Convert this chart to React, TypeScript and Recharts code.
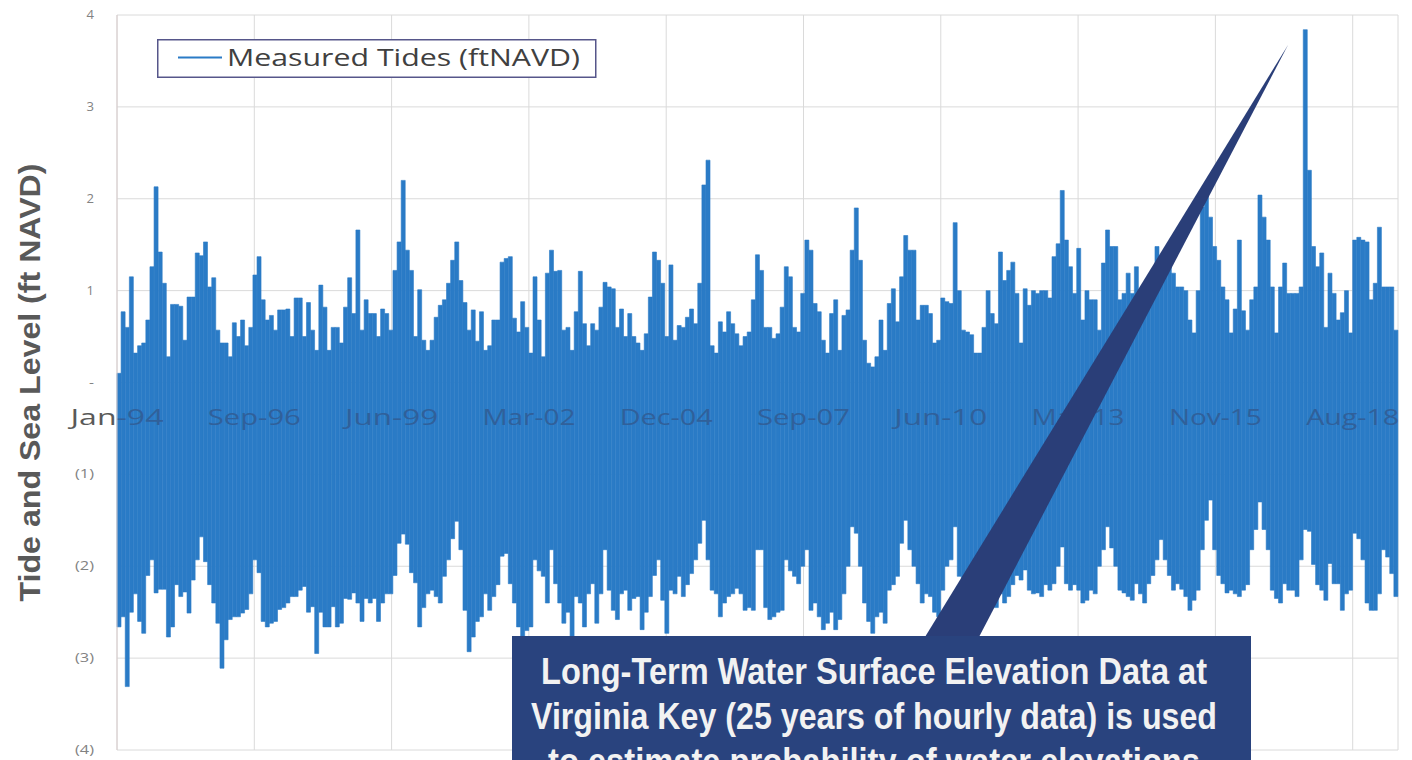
import React from 'react';
import { ComposedChart, Bar, XAxis, YAxis, CartesianGrid, ReferenceDot, Legend } from 'recharts';

// Virginia Key hourly tides, condensed to the max / min of each 30 day block (ft NAVD)
const BIN_DAYS = 30;

const binHigh = [
  0.1, 0.77, 0.6, 1.15, 0.32, 0.4, 0.43, 0.68, 1.26, 2.13,
  1.42, 1.08, 0.28, 0.85, 0.85, 0.83, 0.46, 0.93, 0.93, 1.41,
  1.38, 1.53, 1.04, 1.14, 0.57, 0.43, 0.43, 0.28, 0.65, 0.5,
  0.68, 0.4, 0.6, 1.17, 1.37, 0.9, 0.68, 0.73, 0.57, 0.79,
  0.79, 0.8, 0.5, 0.92, 0.92, 0.5, 0.87, 0.57, 0.35, 1.06,
  0.82, 0.35, 0.6, 0.6, 0.43, 0.82, 1.14, 0.75, 1.66, 0.57,
  0.9, 0.75, 0.75, 0.5, 0.8, 0.75, 0.57, 1.22, 1.53, 2.2,
  1.44, 1.22, 0.5, 1.01, 0.46, 0.35, 0.46, 0.71, 0.84, 0.9,
  1.08, 1.33, 1.53, 1.11, 0.87, 0.57, 0.79, 0.45, 0.77, 0.35,
  0.4, 0.68, 0.68, 1.31, 1.35, 1.37, 0.7, 0.55, 0.88, 0.6,
  0.32, 1.15, 0.68, 0.28, 1.19, 1.44, 1.21, 1.22, 0.57, 0.6,
  0.35, 0.77, 1.21, 0.64, 0.4, 0.64, 0.57, 0.82, 1.09, 1.04,
  1.02, 0.6, 0.8, 0.5, 0.75, 0.5, 0.43, 0.35, 0.53, 0.93,
  1.42, 1.33, 1.08, 0.5, 1.28, 0.46, 0.62, 0.6, 0.71, 0.8,
  0.64, 1.08, 2.15, 2.42, 0.4, 0.32, 0.66, 0.55, 0.77, 0.64,
  0.53, 0.4, 0.5, 0.55, 0.9, 1.39, 1.22, 0.6, 0.6, 0.48,
  0.53, 0.82, 1.26, 1.15, 0.6, 0.55, 0.97, 1.55, 1.44, 0.86,
  0.77, 0.46, 0.32, 0.75, 0.9, 0.35, 0.73, 0.79, 1.44, 1.9,
  1.33, 0.46, 0.21, 0.17, 0.28, 0.68, 0.35, 0.86, 1.02, 0.66,
  1.15, 1.6, 1.44, 1.44, 0.68, 0.84, 0.84, 0.75, 0.43, 0.46,
  0.92, 0.88, 0.86, 1.74, 1.0, 0.57, 0.55, 0.52, 0.32, 0.32,
  0.6, 1.0, 0.75, 0.64, 1.42, 1.11, 1.22, 1.31, 0.97, 0.43,
  1.02, 0.84, 1.0, 0.97, 1.0, 1.0, 0.92, 1.37, 1.51, 2.09,
  1.55, 1.26, 0.97, 1.46, 0.68, 1.0, 0.9, 0.9, 0.57, 1.3,
  1.66, 1.48, 1.48, 0.9, 0.97, 1.19, 0.97, 1.26, 0.9, 1.0,
  0.97, 1.1, 1.48, 1.2, 1.33, 1.3, 1.19, 1.04, 1.04, 1.0,
  0.68, 0.54, 1.0, 1.91, 2.06, 1.8, 1.48, 1.33, 1.04, 0.9,
  0.54, 0.8, 1.55, 0.78, 0.57, 0.9, 1.04, 2.04, 1.8, 1.55,
  1.04, 0.54, 1.04, 1.3, 0.97, 0.97, 0.97, 1.04, 3.84, 2.31,
  1.48, 1.26, 1.41, 0.6, 1.19, 0.97, 0.68, 0.76, 1.0, 0.54,
  1.55, 1.58, 1.55, 1.53, 0.9, 1.08, 1.69, 1.04, 1.04, 1.04,
  0.57,
];

const binLow = [
  -2.66, -2.55, -3.31, -2.5, -2.3, -2.6, -2.73, -2.1, -1.93, -2.29,
  -2.25, -2.25, -2.77, -2.66, -2.2, -2.33, -2.28, -2.51, -2.15, -1.93,
  -1.68, -1.95, -2.2, -2.4, -2.62, -3.11, -2.8, -2.58, -2.55, -2.55,
  -2.51, -2.47, -2.3, -1.93, -2.07, -2.6, -2.66, -2.62, -2.6, -2.47,
  -2.45, -2.4, -2.33, -2.33, -2.26, -2.22, -2.5, -2.44, -2.95, -2.5,
  -2.66, -2.66, -2.44, -2.66, -2.62, -2.35, -2.36, -2.29, -2.4, -2.6,
  -2.35, -2.4, -2.35, -2.6, -2.4, -2.3, -2.3, -2.1, -1.75, -1.65,
  -1.76, -2.07, -2.18, -2.66, -2.45, -2.3, -2.26, -2.33, -2.4, -2.11,
  -1.93, -1.7, -1.51, -1.82, -2.48, -2.93, -2.77, -2.6, -2.55, -2.3,
  -2.48, -2.33, -2.2, -1.89, -1.86, -2.19, -2.4, -2.66, -2.77, -2.7,
  -2.66, -1.93, -2.05, -2.11, -2.4, -1.82, -2.19, -2.4, -2.62, -2.5,
  -2.77, -2.33, -2.4, -2.66, -2.3, -2.19, -2.62, -2.3, -1.82, -2.26,
  -2.48, -2.58, -2.3, -2.26, -2.48, -2.35, -2.33, -2.69, -2.5, -2.33,
  -2.1, -1.93, -2.37, -2.73, -2.26, -2.3, -2.11, -2.33, -2.2, -2.08,
  -1.93, -1.75, -1.5, -1.93, -2.26, -2.3, -2.55, -2.4, -2.33, -2.3,
  -2.24, -2.3, -2.48, -2.45, -2.48, -1.82, -1.82, -2.45, -2.58, -2.55,
  -2.5, -2.48, -1.93, -2.05, -2.11, -2.19, -2.0, -1.82, -2.48, -2.4,
  -2.55, -2.69, -2.62, -2.5, -2.69, -2.58, -2.3, -2.0, -1.57, -1.64,
  -2.0, -2.4, -2.6, -2.73, -2.55, -2.5, -2.62, -2.26, -2.2, -2.11,
  -1.75, -1.5, -1.82, -2.0, -2.19, -2.4, -2.3, -2.33, -2.5, -2.55,
  -2.26, -2.0, -1.93, -1.57, -2.11, -2.5, -2.69, -2.55, -2.45, -2.4,
  -2.5, -2.35, -2.4, -2.45, -2.3, -2.4, -2.33, -2.2, -2.1, -2.15,
  -2.04, -2.26, -2.3, -2.29, -2.33, -2.2, -2.26, -2.19, -2.0, -1.79,
  -2.19, -2.26, -2.2, -2.26, -2.4, -2.37, -2.26, -2.3, -2.0, -1.82,
  -1.57, -1.8, -2.0, -2.26, -2.29, -2.33, -2.37, -2.19, -2.3, -2.4,
  -2.19, -2.1, -1.93, -1.71, -1.93, -2.1, -2.26, -2.19, -2.25, -2.33,
  -2.48, -2.37, -2.26, -1.82, -1.5, -1.28, -1.82, -2.1, -2.19, -2.29,
  -2.26, -2.3, -2.33, -2.26, -2.2, -1.82, -1.6, -1.3, -1.6, -1.82,
  -2.26, -2.35, -2.4, -2.19, -2.26, -2.26, -2.33, -1.93, -1.6, -1.62,
  -1.98, -2.2, -2.26, -2.37, -1.97, -2.19, -2.19, -2.48, -2.3, -2.26,
  -1.64, -1.7, -1.93, -2.4, -2.48, -2.48, -2.3, -1.82, -1.9, -2.08,
  -2.33,
];

// Excel date axis: a label every 1000 days from 1-Jan-1994
const xTickDays = [0, 1000, 2000, 3000, 4000, 5000, 6000, 7000, 8000, 9000];
const xTickLabels = ['Jan-94', 'Sep-96', 'Jun-99', 'Mar-02', 'Dec-04', 'Sep-07', 'Jun-10', 'Mar-13', 'Nov-15', 'Aug-18'];
const yTicks = [-4, -3, -2, -1, 0, 1, 2, 3, 4];

const lastDay = binHigh.length * BIN_DAYS;

const chartData = binHigh.map((hi, i) => ({
  bin: i,
  day: i * BIN_DAYS + BIN_DAYS / 2,
  tide: [binLow[i], hi],
}));

const TIDE_BLUE = '#2a7bc6';
const BOX_NAVY = '#29437e';
const LABEL_GRAY = '#595959';
const LABEL_ON_BLUE = '#30609a'; // gray label text seen through the series

const YTick = (props: any) => {
  const { x, y, payload } = props;
  const v = payload.value;
  const text = v === 0 ? '-' : v > 0 ? String(v) : `(${-v})`;
  const w = v === 0 ? 5 : text.length === 1 ? 7.5 : 19;
  return (
    <text x={x} y={y} dy={4} textAnchor="end" fontFamily="'Open Sans', sans-serif" fontSize={12}
      fill="#828282" textLength={w} lengthAdjust="spacingAndGlyphs">
      {text}
    </text>
  );
};

// date labels sit just under the zero line; the first one straddles the plot edge
const xLabel = (text: string, first: boolean) => (props: any) => {
  const vb = props.viewBox;
  const cx = vb.x + vb.width / 2;
  const cy = vb.y + vb.height / 2;
  return (
    <g>
      {first && (
        <defs>
          <linearGradient id="xlab-split" gradientUnits="userSpaceOnUse" x1={0} y1={0} x2={cx * 2} y2={0}>
            <stop offset={0.5} stopColor={LABEL_GRAY} />
            <stop offset={0.5} stopColor={LABEL_ON_BLUE} />
          </linearGradient>
        </defs>
      )}
      <text x={cx} y={cy + 42} textAnchor="middle" fontFamily="'Open Sans', sans-serif" fontSize={21}
        fill={first ? 'url(#xlab-split)' : LABEL_ON_BLUE}
        textLength={93} lengthAdjust="spacingAndGlyphs">
        {text}
      </text>
    </g>
  );
};

const YTitle = (props: any) => {
  const vb = props.viewBox;
  const cy = vb.y + vb.height / 2;
  const x = vb.x + 40;
  return (
    <text x={x} y={cy} transform={`rotate(-90, ${x}, ${cy})`} textAnchor="middle"
      fontFamily="'Liberation Sans', Arial, sans-serif" fontWeight="bold" fontSize={30} fill="#595959"
      textLength={438} lengthAdjust="spacingAndGlyphs">
      Tide and Sea Level (ft NAVD)
    </text>
  );
};

const LegendBox = (props: any) => {
  const item = props.payload && props.payload[0];
  if (!item) return null;
  return (
    <svg width={440} height={40} style={{ display: 'block' }}>
      <rect x={0.75} y={0.75} width={438} height={37.5} fill="#ffffff" stroke="#56568a" strokeWidth={1.5} />
      <line x1={21} x2={65} y1={18.5} y2={18.5} stroke={TIDE_BLUE} strokeWidth={2} />
      <text x={70} y={27} fontFamily="'Open Sans', sans-serif" fontSize={23} fill="#404040"
        textLength={353} lengthAdjust="spacingAndGlyphs">
        {item.value}
      </text>
    </svg>
  );
};

const calloutLines = [
  'Long-Term Water Surface Elevation Data at',
  'Virginia Key (25 years of hourly data) is used',
  'to estimate probability of water elevations',
];
const calloutWidths = [666, 686, 652];

export default function App() {
  return (
    <div style={{ position: 'absolute', left: 0, top: 0, width: 1412, height: 760, overflow: 'hidden', background: '#fff' }}>
      <ComposedChart width={1412} height={760} data={chartData}
        margin={{ top: 15, right: 14, bottom: 10, left: 0 }} barCategoryGap={0} barGap={0}>
        <CartesianGrid xAxisId="day" stroke="#dadada" />
        <XAxis xAxisId="bin" dataKey="bin" type="category" hide />
        <XAxis xAxisId="day" dataKey="day" type="number" domain={[0, lastDay]} ticks={xTickDays} allowDataOverflow hide />
        <YAxis type="number" domain={[-4, 4]} ticks={yTicks} interval={0} width={117}
          tickSize={0} tickMargin={23} tickLine={false} axisLine={{ stroke: '#d8cccc' }}
          tick={<YTick />} label={YTitle} />
        <Bar xAxisId="bin" dataKey="tide" name="Measured Tides (ftNAVD)" fill={TIDE_BLUE}
          stroke={TIDE_BLUE} strokeWidth={0.6} isAnimationActive={false} />
        {xTickDays.map((d, i) => (
          <ReferenceDot key={d} xAxisId="day" x={d} y={0} r={0} fill="none" stroke="none"
            ifOverflow="visible" label={xLabel(xTickLabels[i], i === 0)} />
        ))}
        <Legend layout="horizontal" verticalAlign="middle" align="center" content={LegendBox}
          wrapperStyle={{ left: 157, top: 39, width: 440, height: 40 }} />
      </ComposedChart>
      <svg width={1412} height={760} style={{ position: 'absolute', left: 0, top: 0, pointerEvents: 'none' }}>
        <polygon points="925,637 979,637 1288,45" fill="#2a3e78" />
        <rect x={512} y={636} width={739} height={150} fill={BOX_NAVY} />
        {calloutLines.map((t, i) => (
          <text key={t} x={874} y={684 + i * 45} textAnchor="middle"
            fontFamily="'Liberation Sans Narrow', 'Arial Narrow', 'Liberation Sans', sans-serif"
            fontWeight="bold" fontSize={36} fill="#f2f2f2"
            textLength={calloutWidths[i]} lengthAdjust="spacingAndGlyphs">
            {t}
          </text>
        ))}
      </svg>
    </div>
  );
}
